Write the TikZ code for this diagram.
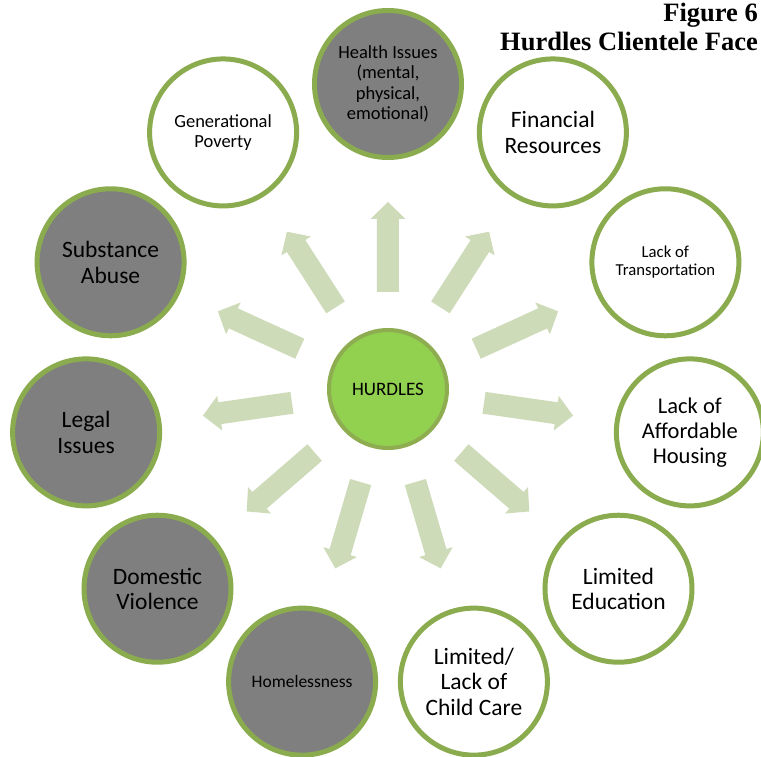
\documentclass[tikz,border=0pt]{standalone}
\usepackage{fontspec}
\setmainfont{Carlito}
\newfontfamily\titlefont{Liberation Serif}
\usepackage{xcolor}
\usetikzlibrary{positioning,calc}
\definecolor{ringgreen}{RGB}{139,171,79}
\definecolor{hubgreen}{RGB}{146,208,80}
\definecolor{hubring}{RGB}{141,173,80}
\definecolor{darkfill}{RGB}{127,127,127}
\definecolor{arrowgreen}{RGB}{206,219,184}

\begin{document}
\begin{tikzpicture}[x=1pt, y=1pt,
    bubble/.style={circle, draw=ringgreen, line width=5pt, fill=white, minimum size=147pt, inner sep=0pt, align=center, font=\fontsize{23.5}{25.5}\selectfont},
    darkbubble/.style={bubble, fill=darkfill},
    smalltext/.style={font=\fontsize{18.5}{20.5}\selectfont},
    tinytext/.style={font=\fontsize{16.7}{17.8}\selectfont},
    hub/.style={circle, draw=hubring, line width=4pt, fill=hubgreen, minimum size=118pt, inner sep=0pt, font=\fontsize{19}{21}\selectfont},
    blockarrow/.style={fill=arrowgreen}]
    \useasboundingbox (-388,-368) rectangle (373,389);

    \node[hub] (hurdles) at (0,0) {HURDLES};

    \foreach \k in {0,...,10}
        \fill[blockarrow, rotate=90-\k*360/11] (97,-11) -- (170,-11) -- (170,-17.5) -- (187,0) -- (170,17.5) -- (170,11) -- (97,11) -- cycle;

    \node[darkbubble, smalltext] (health) at (90:305) {Health Issues\\(mental,\\physical,\\emotional)};
    \node[bubble] (finance) at (57.27:305) {Financial\\Resources};
    \node[bubble, tinytext] (transport) at (24.55:305) {Lack of\\Transportation};
    \node[bubble, font=\fontsize{22.5}{25}\selectfont] (housing) at (-8.18:305) {Lack of\\Affordable\\Housing};
    \node[bubble] (education) at (-40.91:305) {Limited\\Education};
    \node[bubble] (childcare) at (-73.64:305) {Limited/\\Lack of\\Child Care};
    \node[darkbubble, font=\fontsize{17.5}{20}\selectfont] (homeless) at (-106.36:305) {Homelessness};
    \node[darkbubble] (violence) at (-139.09:305) {Domestic\\Violence};
    \node[darkbubble] (legal) at (-171.82:305) {Legal\\Issues};
    \node[darkbubble] (substance) at (155.45:305) {Substance\\Abuse};
    \node[bubble, smalltext] (poverty) at (122.73:305) {Generational\\Poverty};

    \node[anchor=north east, align=right, inner sep=0pt, font=\titlefont\bfseries\fontsize{26.5}{29}\selectfont] (title) at (370,386) {Figure 6\\Hurdles Clientele Face};
\end{tikzpicture}
\end{document}
